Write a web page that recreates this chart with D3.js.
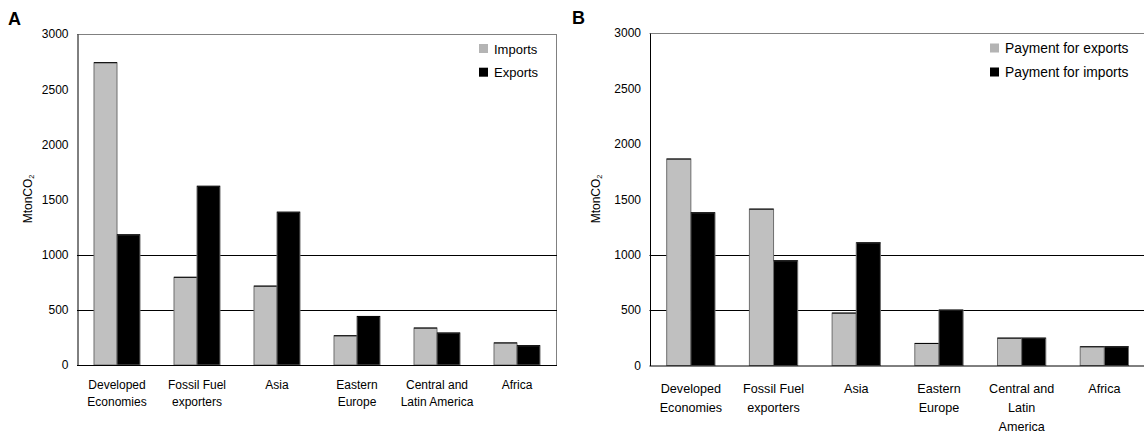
<!DOCTYPE html>
<html>
<head>
<meta charset="utf-8">
<script src="https://cdn.jsdelivr.net/npm/d3@7"></script>
<style>
  body { margin: 0; background: #fff; }
  svg { display: block; font-family: "Liberation Sans", Arial, sans-serif; }
</style>
</head>
<body>
<svg id="drawing_region"></svg>
<script>
// regions on the x axis, and how their labels wrap in each panel
const regions = ["Developed Economies", "Fossil Fuel exporters", "Asia",
                 "Eastern Europe", "Central and Latin America", "Africa"];
const labelLinesA = [["Developed", "Economies"], ["Fossil Fuel", "exporters"], ["Asia"],
                     ["Eastern", "Europe"], ["Central and", "Latin America"], ["Africa"]];
const labelLinesB = [["Developed", "Economies"], ["Fossil Fuel", "exporters"], ["Asia"],
                     ["Eastern", "Europe"], ["Central and", "Latin", "America"], ["Africa"]];

// panel A: emissions embodied in trade (MtonCO2)
const importsA = [2740, 795, 715, 265, 335, 200];
const exportsA = [1180, 1620, 1385, 440, 290, 175];
// panel B: payment for emissions (MtonCO2)
const payExportsB = [1863, 1411, 473, 199, 247, 169];
const payImportsB = [1378, 945, 1107, 500, 247, 169];

const yTicks = [0, 500, 1000, 1500, 2000, 2500, 3000];
const gridValues = [500, 1000];

const svg = d3.select("#drawing_region").attr("width", 1144).attr("height", 435);

class GroupedBars {
    constructor(config) {
        this.config = config;
        this.init();
    }

    init() {
        let self = this;
        const c = self.config;
        self.chart = svg.append("g");

        self.xscale = d3.scaleBand()
            .domain(regions)
            .range([c.left, c.left + c.slot * regions.length]);
        self.sub = d3.scaleBand()
            .domain(c.series.map(s => s.name))
            .range([0, c.slot * c.groupFrac]);
        self.yscale = d3.scaleLinear()
            .domain([0, 3000])
            .range([c.bottom, c.top]);
    }

    render() {
        let self = this;
        const c = self.config;
        const right = c.left + c.slot * regions.length;

        // frame: gray top / right, black gridlines
        self.chart.append("line")
            .attr("x1", c.left).attr("x2", right)
            .attr("y1", c.top + 0.5).attr("y2", c.top + 0.5)
            .attr("stroke", "#808080");
        self.chart.append("line")
            .attr("x1", right - 0.5).attr("x2", right - 0.5)
            .attr("y1", c.top).attr("y2", c.bottom)
            .attr("stroke", "#808080");
        self.chart.selectAll(".grid")
            .data(gridValues)
            .join("line")
            .attr("x1", c.left).attr("x2", right)
            .attr("y1", d => Math.round(self.yscale(d)) + 0.5)
            .attr("y2", d => Math.round(self.yscale(d)) + 0.5)
            .attr("stroke", "#000");

        const off = (c.slot - c.slot * c.groupFrac) / 2;
        c.series.forEach(s => {
            const rows = regions.map((r, i) => ({ region: r, value: s.values[i] }));
            self.chart.append("g")
                .selectAll("rect")
                .data(rows)
                .join("rect")
                .attr("x", d => self.xscale(d.region) + off + self.sub(s.name))
                .attr("y", d => self.yscale(d.value))
                .attr("width", self.sub.bandwidth())
                .attr("height", d => c.bottom - self.yscale(d.value))
                .attr("fill", s.color)
                .attr("stroke", "#6e6e6e")
                .attr("stroke-width", 1);
            // dark top edge on each bar
            self.chart.append("g")
                .selectAll("line")
                .data(rows)
                .join("line")
                .attr("x1", d => self.xscale(d.region) + off + self.sub(s.name))
                .attr("x2", d => self.xscale(d.region) + off + self.sub(s.name) + self.sub.bandwidth())
                .attr("y1", d => self.yscale(d.value))
                .attr("y2", d => self.yscale(d.value))
                .attr("stroke", "#000");
        });

        // y axis
        const yaxis = d3.axisLeft(self.yscale)
            .tickValues(yTicks)
            .tickSize(0)
            .tickPadding(9)
            .tickFormat(d3.format("d"));
        const yg = self.chart.append("g")
            .attr("transform", `translate(${c.left + 0.5},0)`)
            .call(yaxis);
        yg.select(".domain").attr("stroke", "#000");
        yg.selectAll("text")
            .attr("font-size", c.tickFont)
            .attr("font-family", "Liberation Sans, Arial, sans-serif")
            .attr("fill", "#000");

        // x baseline
        self.chart.append("line")
            .attr("x1", c.left).attr("x2", right)
            .attr("y1", c.bottom + 0.5).attr("y2", c.bottom + 0.5)
            .attr("stroke", "#000");

        // category labels
        self.chart.selectAll(".cat")
            .data(regions)
            .join("text")
            .attr("text-anchor", "middle")
            .attr("font-size", c.catFont)
            .attr("fill", "#000")
            .each(function(d, i) {
                d3.select(this).selectAll("tspan")
                    .data(c.labelLines[i])
                    .join("tspan")
                    .attr("x", self.xscale(d) + c.slot / 2)
                    .attr("y", (t, j) => c.catY + j * c.catStep)
                    .text(t => t);
            });

        // y label
        const yl = self.chart.append("text")
            .attr("transform", `translate(${c.ylabelX},${c.ylabelY}) rotate(-90)`)
            .attr("text-anchor", "middle")
            .attr("font-size", c.tickFont)
            .attr("fill", "#000");
        yl.append("tspan").text("MtonCO");
        yl.append("tspan").attr("font-size", c.tickFont * 0.6).attr("dy", 2).text("2");

        // legend
        c.series.forEach((s, i) => {
            self.chart.append("rect")
                .attr("x", c.legendX).attr("y", c.legendY + i * c.legendStep)
                .attr("width", 9).attr("height", 9)
                .attr("fill", s.color === "#000" ? "#000" : "#b4b4b4");
            self.chart.append("text")
                .attr("x", c.legendX + 15).attr("y", c.legendY + 9.5 + i * c.legendStep)
                .attr("font-size", c.legendFont)
                .attr("fill", "#000")
                .text(s.name);
        });

        // panel letter
        self.chart.append("text")
            .attr("x", c.letterX).attr("y", c.letterY)
            .attr("font-size", 18).attr("font-weight", "bold")
            .attr("fill", "#000")
            .text(c.letter);
    }
}

const panelA = new GroupedBars({
    letter: "A", letterX: 8, letterY: 25,
    left: 77, slot: 80, groupFrac: 0.575, top: 34, bottom: 365,
    tickFont: 12, catFont: 12, catY: 388.5, catStep: 17.7,
    labelLines: labelLinesA, ylabelX: 32, ylabelY: 199,
    legendX: 479, legendY: 44, legendStep: 23.7, legendFont: 13,
    series: [{ name: "Imports", values: importsA, color: "#c0c0c0" },
             { name: "Exports", values: exportsA, color: "#000" }]
});
panelA.render();

const panelB = new GroupedBars({
    letter: "B", letterX: 572, letterY: 23.5,
    left: 649.5, slot: 82.7, groupFrac: 0.584, top: 33, bottom: 365.5,
    tickFont: 12, catFont: 12.6, catY: 392.5, catStep: 19,
    labelLines: labelLinesB, ylabelX: 600, ylabelY: 199,
    legendX: 990, legendY: 43.5, legendStep: 24, legendFont: 13.8,
    series: [{ name: "Payment for exports", values: payExportsB, color: "#c0c0c0" },
             { name: "Payment for imports", values: payImportsB, color: "#000" }]
});
panelB.render();
</script>
</body>
</html>
